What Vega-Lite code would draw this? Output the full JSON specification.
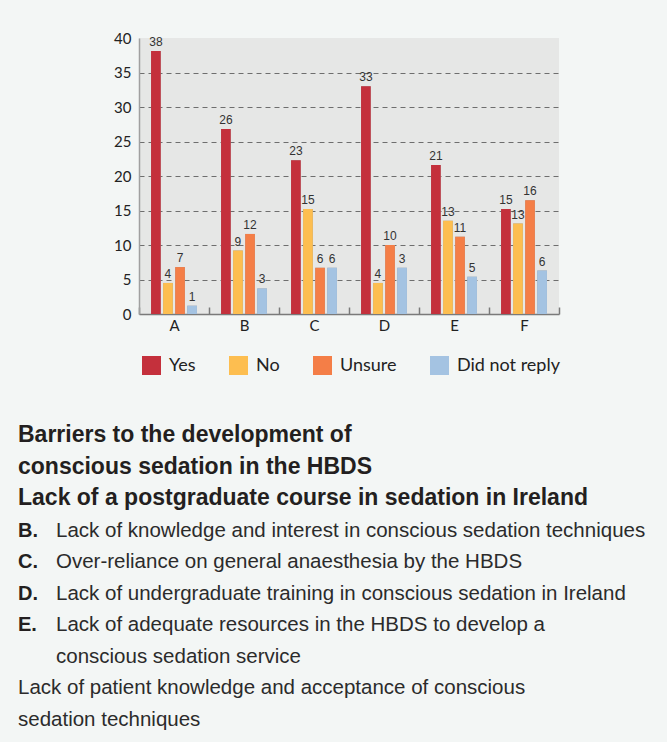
{
  "$schema": "https://vega.github.io/schema/vega-lite/v6.json",
  "width": 420,
  "height": 276,
  "autosize": {"type": "none"},
  "padding": {"left": 139, "top": 38, "right": 108, "bottom": 428},
  "background": "#f3f6f5",
  "config": {
    "view": {"fill": "#e6e7e6", "stroke": null},
    "font": "Liberation Sans"
  },
  "resolve": {"scale": {"x": "independent", "y": "independent"}},
  "layer": [
    {
      "data": {
        "values": [
          {"group": "A", "response": "Yes", "value": 38.1, "label": "38"},
          {"group": "A", "response": "No", "value": 4.5, "label": "4"},
          {"group": "A", "response": "Unsure", "value": 6.8, "label": "7"},
          {"group": "A", "response": "Did not reply", "value": 1.2, "label": "1"},
          {"group": "B", "response": "Yes", "value": 26.8, "label": "26"},
          {"group": "B", "response": "No", "value": 9.2, "label": "9"},
          {"group": "B", "response": "Unsure", "value": 11.6, "label": "12"},
          {"group": "B", "response": "Did not reply", "value": 3.7, "label": "3"},
          {"group": "C", "response": "Yes", "value": 22.3, "label": "23"},
          {"group": "C", "response": "No", "value": 15.2, "label": "15"},
          {"group": "C", "response": "Unsure", "value": 6.7, "label": "6"},
          {"group": "C", "response": "Did not reply", "value": 6.7, "label": "6"},
          {"group": "D", "response": "Yes", "value": 33.0, "label": "33"},
          {"group": "D", "response": "No", "value": 4.5, "label": "4"},
          {"group": "D", "response": "Unsure", "value": 10.0, "label": "10"},
          {"group": "D", "response": "Did not reply", "value": 6.7, "label": "3"},
          {"group": "E", "response": "Yes", "value": 21.6, "label": "21"},
          {"group": "E", "response": "No", "value": 13.5, "label": "13"},
          {"group": "E", "response": "Unsure", "value": 11.2, "label": "11"},
          {"group": "E", "response": "Did not reply", "value": 5.4, "label": "5"},
          {"group": "F", "response": "Yes", "value": 15.2, "label": "15"},
          {"group": "F", "response": "No", "value": 13.1, "label": "13"},
          {"group": "F", "response": "Unsure", "value": 16.5, "label": "16"},
          {"group": "F", "response": "Did not reply", "value": 6.3, "label": "6"}
        ]
      },
      "encoding": {
        "x": {
          "field": "group", "type": "nominal",
          "scale": {"paddingInner": 0, "paddingOuter": 0},
          "axis": {
            "title": null, "labelAngle": 0, "labelFont": "Lato", "labelFontSize": 15,
            "labelColor": "#222", "tickBand": "extent", "tickSize": -7, "tickColor": "#7a7a7a",
            "tickWidth": 1.5, "labelPadding": 11, "domainColor": "#7a7a7a", "domainWidth": 1.5
          }
        },
        "xOffset": {
          "field": "response", "type": "nominal",
          "scale": {"domain": ["Yes", "No", "Unsure", "Did not reply"], "paddingInner": 0.2, "paddingOuter": 1.6}
        },
        "y": {
          "field": "value", "type": "quantitative",
          "scale": {"domain": [0, 40], "nice": false},
          "axis": {
            "title": null, "values": [0, 5, 10, 15, 20, 25, 30, 35, 40],
            "grid": true, "gridDash": [5, 4], "gridColor": "#6e6e6e", "gridWidth": 1,
            "gridOpacity": {"condition": {"test": "datum.value == 40 || datum.value == 0", "value": 0}, "value": 1},
            "ticks": false, "domainColor": "#a0a0a0", "domainWidth": 1.5,
            "labelFont": "Lato", "labelFontSize": 15, "labelColor": "#222", "labelPadding": 8
          }
        }
      },
      "layer": [
        {
          "mark": {"type": "bar", "color": "#9a9a9a", "xOffset": 2},
          "encoding": {}
        },
        {
          "mark": {"type": "bar"},
          "encoding": {
            "color": {
              "field": "response", "type": "nominal",
              "scale": {"domain": ["Yes", "No", "Unsure", "Did not reply"], "range": ["#c4303c", "#fdbe50", "#f47e47", "#a4c3e2"]},
              "legend": {
                "title": null, "orient": "none", "legendX": 3, "legendY": 318, "direction": "horizontal",
                "symbolType": "square", "symbolSize": 361, "symbolStrokeWidth": 0,
                "labelFont": "Lato", "labelFontSize": 18, "labelColor": "#222", "labelOffset": 8,
                "columnPadding": 33
              }
            }
          }
        },
        {
          "mark": {"type": "text", "baseline": "bottom", "dy": -2, "fontSize": 12, "color": "#333"},
          "encoding": {"text": {"field": "label"}}
        }
      ]
    },
    {
      "data": {
        "values": [
          {"row": 1, "col": "label", "style": "title", "text": "Barriers to the development of"},
          {"row": 2, "col": "label", "style": "title", "text": "conscious sedation in the HBDS"},
          {"row": 3, "col": "label", "style": "title", "text": "Lack of a postgraduate course in sedation in Ireland"},
          {"row": 4, "col": "label", "style": "letter", "text": "B."},
          {"row": 4, "col": "body", "style": "body", "text": "Lack of knowledge and interest in conscious sedation techniques"},
          {"row": 5, "col": "label", "style": "letter", "text": "C."},
          {"row": 5, "col": "body", "style": "body", "text": "Over-reliance on general anaesthesia by the HBDS"},
          {"row": 6, "col": "label", "style": "letter", "text": "D."},
          {"row": 6, "col": "body", "style": "body", "text": "Lack of undergraduate training in conscious sedation in Ireland"},
          {"row": 7, "col": "label", "style": "letter", "text": "E."},
          {"row": 7, "col": "body", "style": "body", "text": "Lack of adequate resources in the HBDS to develop a"},
          {"row": 8, "col": "body", "style": "body", "text": "conscious sedation service"},
          {"row": 9, "col": "label", "style": "body", "text": "Lack of patient knowledge and acceptance of conscious"},
          {"row": 10, "col": "label", "style": "body", "text": "sedation techniques"}
        ]
      },
      "encoding": {
        "x": {"field": "col", "type": "nominal", "scale": {"type": "point", "padding": 0, "domain": ["label", "body"], "range": [-121, -83]}, "axis": null},
        "y": {"field": "row", "type": "ordinal", "scale": {"type": "point", "padding": 0, "range": [404, 688]}, "axis": null},
        "text": {"field": "text"}
      },
      "layer": [
        {
          "transform": [{"filter": "datum.style == 'title'"}],
          "mark": {"type": "text", "align": "left", "baseline": "alphabetic", "fontSize": 23, "fontWeight": "bold", "color": "#231f20"}
        },
        {
          "transform": [{"filter": "datum.style == 'letter'"}],
          "mark": {"type": "text", "align": "left", "baseline": "alphabetic", "fontSize": 20, "fontWeight": "bold", "color": "#231f20"}
        },
        {
          "transform": [{"filter": "datum.style == 'body'"}],
          "mark": {"type": "text", "align": "left", "baseline": "alphabetic", "fontSize": 20.5, "color": "#2b2b2b"}
        }
      ]
    }
  ]
}
